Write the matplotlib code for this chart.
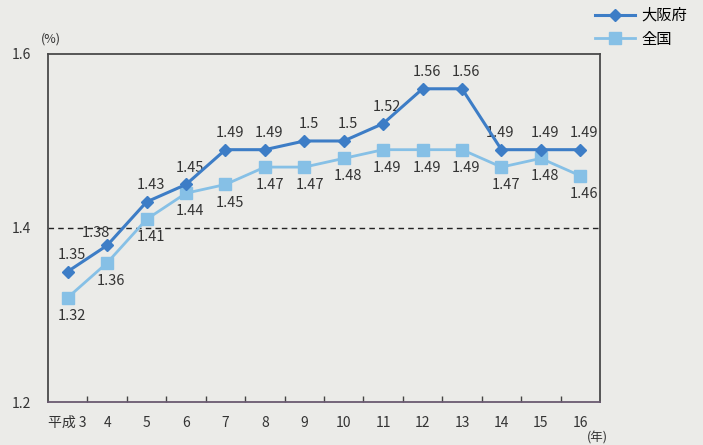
"""
Total fertility rate line chart: Osaka prefecture vs. national (Heisei 3-16).
"""
import matplotlib
matplotlib.use("Agg")
import matplotlib.pyplot as plt
import numpy as np

plt.rcParams['font.family'] = ['Noto Sans CJK JP', 'DejaVu Sans']

# data
years = ['平成 3', '4', '5', '6', '7', '8', '9', '10', '11', '12', '13', '14', '15', '16']
osaka = [1.35, 1.38, 1.43, 1.45, 1.49, 1.49, 1.5, 1.5, 1.52, 1.56, 1.56, 1.49, 1.49, 1.49]
national = [1.32, 1.36, 1.41, 1.44, 1.45, 1.47, 1.47, 1.48, 1.49, 1.49, 1.49, 1.47, 1.48, 1.46]
osaka_labels = ['1.35', '1.38', '1.43', '1.45', '1.49', '1.49', '1.5', '1.5', '1.52',
                '1.56', '1.56', '1.49', '1.49', '1.49']
national_labels = ['1.32', '1.36', '1.41', '1.44', '1.45', '1.47', '1.47', '1.48', '1.49',
                   '1.49', '1.49', '1.47', '1.48', '1.46']
y_ticks = [1.2, 1.4, 1.6]
y_ticklabels = ['1.2', '1.4', '1.6']

BG = '#ebebe8'
OSAKA_C = '#3d7dc6'
NATION_C = '#86c0e6'
TEXT_C = '#333333'

fig = plt.figure(figsize=(7.03, 4.45), dpi=100, facecolor=BG)
ax = fig.add_axes([0.0683, 0.0966, 0.7852, 0.7821], facecolor=BG)

x = np.arange(len(years))
ax.plot(x, osaka, color=OSAKA_C, lw=2.2, marker='D', ms=6, label='大阪府', zorder=4)
ax.plot(x, national, color=NATION_C, lw=2.0, marker='s', ms=8, label='全国', zorder=3)

# reference line at 1.4
ax.axhline(1.4, color='#222222', lw=1.0, ls=(0, (4, 3)), zorder=2)

# value labels: osaka above, national below
for i, (v, s) in enumerate(zip(osaka, osaka_labels)):
    dx, dy = 3, 7
    if i == 1:
        dx, dy = -8, 4
    elif i == 11:
        dx = -1
    ax.annotate(s, (x[i], v), xytext=(dx, dy), textcoords='offset points',
                ha='center', va='bottom', fontsize=10.5, color=TEXT_C)
for i, (v, s) in enumerate(zip(national, national_labels)):
    dx = 4 if i in (5, 6) else 3
    ax.annotate(s, (x[i], v), xytext=(dx, -8), textcoords='offset points',
                ha='center', va='top', fontsize=10.5, color=TEXT_C)

ax.set_xlim(-0.5, len(years) - 0.5)
ax.set_ylim(1.2, 1.6)
ax.set_xticks(x)
ax.set_xticklabels(years, fontsize=10, color=TEXT_C)
ax.set_xticks(np.arange(0.5, len(years) - 1, 1.0), minor=True)
ax.tick_params(axis='x', which='major', length=0, pad=10)
ax.tick_params(axis='x', which='minor', direction='in', length=4, width=1.0, color='#444444')
ax.set_yticks(y_ticks)
ax.set_yticklabels(y_ticklabels, fontsize=10, color=TEXT_C)
ax.tick_params(axis='y', length=0, pad=12)

for sp in ax.spines.values():
    sp.set_color('#4a4a4a')
    sp.set_linewidth(1.3)
ax.spines['bottom'].set_color('#6a5a70')

fig.text(0.072, 0.912, '(%)', fontsize=9, color=TEXT_C, ha='center', va='center')
fig.text(0.85, 0.016, '(年)', fontsize=9, color=TEXT_C, ha='center', va='center')

fig.legend(loc='upper right', bbox_to_anchor=(0.99, 1.005), frameon=False, fontsize=11,
           handlelength=2.6, handletextpad=0.4, labelspacing=0.45, borderaxespad=0.2)

fig.savefig('out.png', dpi=100, facecolor=BG)
